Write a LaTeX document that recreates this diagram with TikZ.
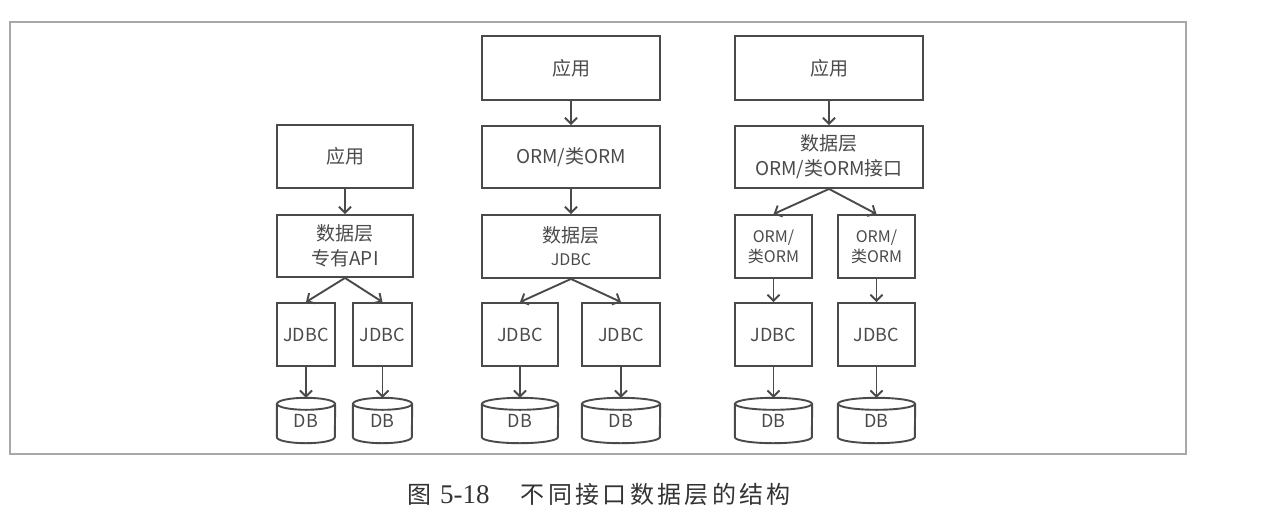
\documentclass[tikz,border=0pt]{standalone}
\usepackage{fontspec}
\setmainfont{Noto Sans CJK SC}
\newfontfamily\capcjk[LetterSpace=14]{Noto Sans CJK SC}
\newfontfamily\capnum{Liberation Serif}
\usetikzlibrary{arrows.meta}
\definecolor{lc}{HTML}{4A4A4A}
\definecolor{tc}{HTML}{4A4A4A}
\definecolor{fc}{HTML}{A8A8A8}
\tikzset{
  box/.style={draw=lc, line width=1.9pt, text=tc, font=\fontsize{19}{25}\selectfont,
    align=center, inner sep=0pt},
  smallbox/.style={box, font=\fontsize{16}{20}\selectfont},
  jbox/.style={box, font=\fontsize{18}{22}\selectfont, minimum height=63pt},
  dbbox/.style={draw=none, text=tc, font=\fontsize{18}{20}\selectfont, inner sep=0pt,
    minimum height=33pt},
  dbline/.style={draw=lc, line width=1.9pt},
  arr/.style={draw=lc, line width=1.9pt, -{Straight Barb[length=6pt,width=12pt,line width=1.9pt]}},
  frame/.style={draw=fc, line width=1.5pt},
  caption/.style={text=black!80, inner sep=0pt, anchor=west}
}
\newcommand\dbnode[3]{%
  \node[dbbox, minimum width=#3pt] (#1) at (#2,420.5) {\raisebox{-4pt}{DB}};
  \draw[dbline] (#1.north west) -- (#1.south west)
     arc[start angle=180, end angle=360, x radius=#3pt/2, y radius=6pt] -- (#1.north east);
  \draw[dbline] (#1.north) ellipse[x radius=#3pt/2, y radius=6pt];
}
\begin{document}
\begin{tikzpicture}[x=1pt, y=-1pt]
\useasboundingbox (0,0) rectangle (1281,530);
\draw[frame] (10,22) rectangle (1186,454);

% left column
\node[box, minimum width=136pt, minimum height=63pt] (L1) at (345,156.5) {应用};
\node[box, minimum width=136pt, minimum height=62pt] (L2) at (345,246) {数据层\\专有API};
\node[jbox, minimum width=58pt] (L3) at (306,334.5) {JDBC};
\node[jbox, minimum width=59pt] (L4) at (382.5,334.5) {JDBC};
\dbnode{L5}{306}{58}
\dbnode{L6}{382.5}{59}
\draw[arr] (L1.south) -- (L2.north);
\draw[arr] (L2.south) -- (L3.north);
\draw[arr] (L2.south) -- (L4.north);
\draw[arr] (L3.south) -- ([yshift=6pt]L5.north);
\draw[arr] (L4.south) -- ([yshift=6pt]L6.north);

% middle column
\node[box, minimum width=178pt, minimum height=64pt] (M1) at (571,68) {应用};
\node[box, minimum width=178pt, minimum height=62pt] (M2) at (571,157) {ORM/类ORM};
\node[box, minimum width=178pt, minimum height=63pt] (M3) at (571,246.5) {数据层\\[-2pt]{\fontsize{16}{20}\selectfont JDBC}};
\node[jbox, minimum width=76pt] (M4) at (520,334.5) {JDBC};
\node[jbox, minimum width=78pt] (M5) at (621,334.5) {JDBC};
\dbnode{M6}{520}{76}
\dbnode{M7}{621}{78}
\draw[arr] (M1.south) -- (M2.north);
\draw[arr] (M2.south) -- (M3.north);
\draw[arr] (M3.south) -- (M4.north);
\draw[arr] (M3.south) -- (M5.north);
\draw[arr] (M4.south) -- ([yshift=6pt]M6.north);
\draw[arr] (M5.south) -- ([yshift=6pt]M7.north);

% right column
\node[box, minimum width=188pt, minimum height=64pt] (R1) at (829,68) {应用};
\node[box, minimum width=188pt, minimum height=62pt] (R2) at (829,157) {数据层\\ORM/类ORM接口};
\node[smallbox, minimum width=77pt, minimum height=63pt] (R3) at (773.5,246.5) {ORM/\\类ORM};
\node[smallbox, minimum width=77pt, minimum height=63pt] (R4) at (876.5,246.5) {ORM/\\类ORM};
\node[jbox, minimum width=77pt] (R5) at (773.5,334.5) {JDBC};
\node[jbox, minimum width=77pt] (R6) at (876.5,334.5) {JDBC};
\dbnode{R7}{773.5}{77}
\dbnode{R8}{876.5}{77}
\draw[arr] (R1.south) -- (R2.north);
\draw[arr] (R2.south) -- (R3.north);
\draw[arr] (R2.south) -- (R4.north);
\draw[arr] (R3.south) -- (R5.north);
\draw[arr] (R4.south) -- (R6.north);
\draw[arr] (R5.south) -- ([yshift=6pt]R7.north);
\draw[arr] (R6.south) -- ([yshift=6pt]R8.north);

% caption
\node[caption] (cap) at (407,494) {{\fontsize{24}{24}\selectfont 图}\hspace*{9pt}{\capnum\fontsize{27}{27}\selectfont 5-18}\hspace*{31pt}{\capcjk\fontsize{24}{24}\selectfont 不同接口数据层的结构}};
\end{tikzpicture}
\end{document}
